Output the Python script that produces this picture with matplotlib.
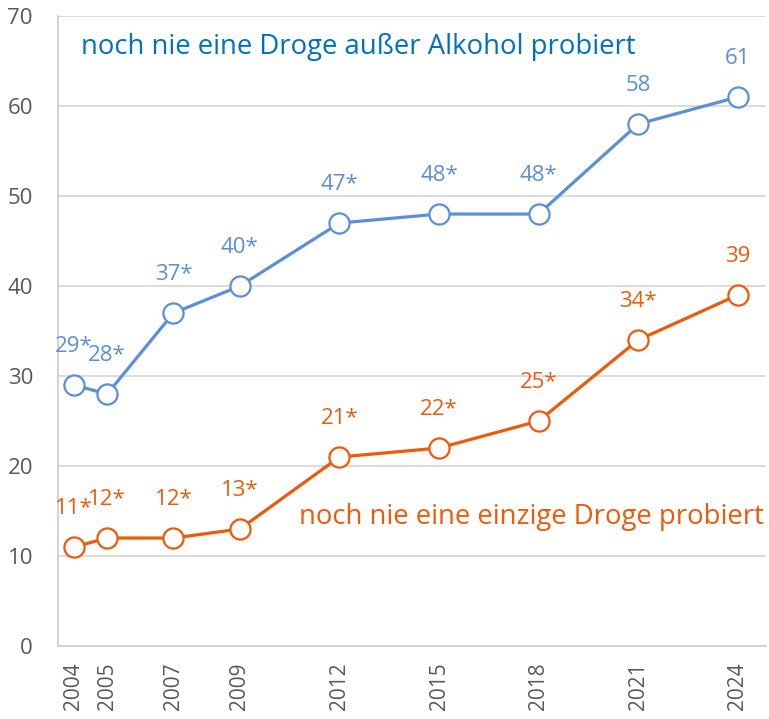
import matplotlib.pyplot as plt

years = [2004, 2005, 2007, 2009, 2012, 2015, 2018, 2021, 2024]
no_drug_except_alcohol = [29, 28, 37, 40, 47, 48, 48, 58, 61]
no_drug_at_all = [11, 12, 12, 13, 21, 22, 25, 34, 39]
labels_blue = ["29*", "28*", "37*", "40*", "47*", "48*", "48*", "58", "61"]
labels_orange = ["11*", "12*", "12*", "13*", "21*", "22*", "25*", "34*", "39"]

blue = "#5B8FD6"
orange = "#EE5A0C"
gray = "#595959"

plt.rcParams['font.family'] = ['Open Sans', 'DejaVu Sans']

fig = plt.figure(figsize=(7.69, 7.19), dpi=100)
ax = fig.add_axes([0.0754, 0.1015, 0.9206, 0.8762])

for vals, labs, col in [(no_drug_except_alcohol, labels_blue, blue),
                        (no_drug_at_all, labels_orange, orange)]:
    ax.plot(years, vals, color=col, lw=2.3, marker="o", ms=14.5,
            mfc="white", mec=col, mew=1.6, zorder=3)
    for x, y, t in zip(years, vals, labs):
        ax.annotate(t, (x, y), xytext=(0, 28), textcoords="offset points",
                    ha="center", va="center", color=col, fontsize=16)

ax.text(2004.2, 66.6, "noch nie eine Droge außer Alkohol probiert",
        color="#0070C0", fontsize=19.8, va="center", ha="left")
ax.text(2024.8, 14.3, "noch nie eine einzige Droge probiert",
        color=orange, fontsize=19.8, va="center", ha="right")

ax.set_xlim(2003.52, 2024.85)
ax.set_ylim(0, 70)
ax.set_yticks(range(0, 71, 10))
ax.set_xticks(years)
ax.set_xticklabels([str(y) for y in years], rotation=90)
ax.tick_params(axis="x", length=0, labelsize=15, colors=gray, pad=12)
ax.tick_params(axis="y", length=0, labelsize=16, colors=gray, pad=18)
ax.grid(axis="y", color="#D9D9D9", lw=1.3)
ax.set_axisbelow(True)
for s in ["top", "right"]:
    ax.spines[s].set_visible(False)
for s in ["left", "bottom"]:
    ax.spines[s].set_color("#D0D0D0")
    ax.spines[s].set_linewidth(1.3)

fig.savefig("out.png", dpi=100)
